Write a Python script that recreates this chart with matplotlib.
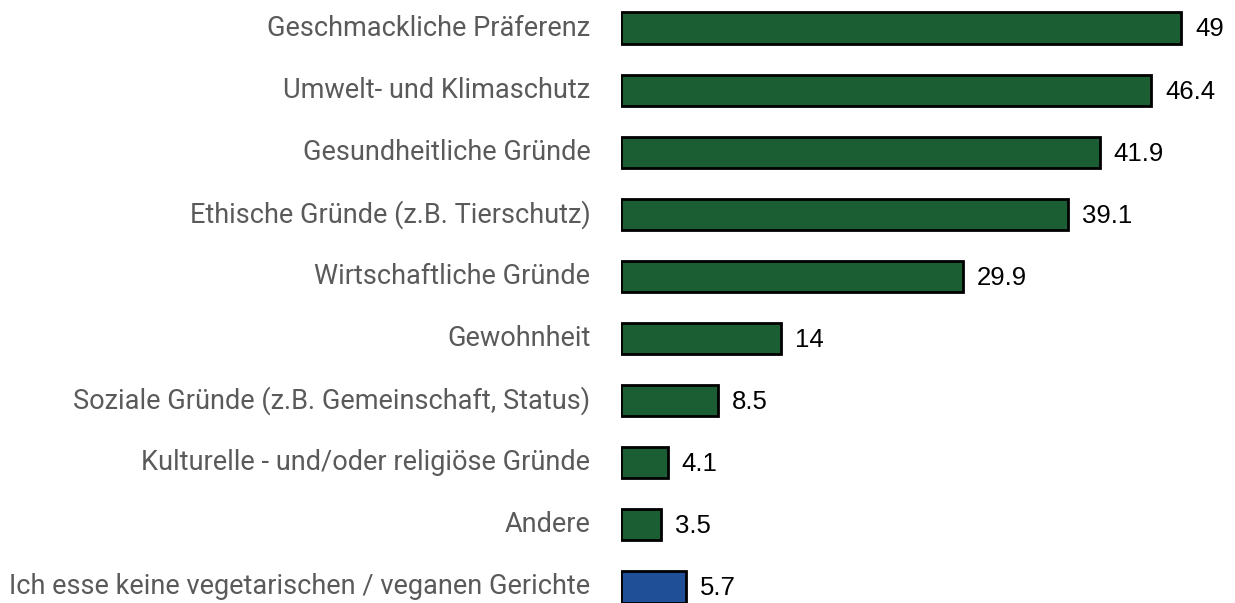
import matplotlib
matplotlib.use("Agg")
import matplotlib.pyplot as plt
from matplotlib import font_manager

categories = [
    "Geschmackliche Präferenz",
    "Umwelt- und Klimaschutz",
    "Gesundheitliche Gründe",
    "Ethische Gründe (z.B. Tierschutz)",
    "Wirtschaftliche Gründe",
    "Gewohnheit",
    "Soziale Gründe (z.B. Gemeinschaft, Status)",
    "Kulturelle - und/oder religiöse Gründe",
    "Andere",
    "Ich esse keine vegetarischen / veganen Gerichte",
]
values = [49, 46.4, 41.9, 39.1, 29.9, 14, 8.5, 4.1, 3.5, 5.7]
value_labels = ["49", "46.4", "41.9", "39.1", "29.9", "14", "8.5", "4.1", "3.5", "5.7"]
colors = ["#1b5e34"] * 9 + ["#1f4f96"]

available = {f.name for f in font_manager.fontManager.ttflist}
label_fams = [f for f in ["Roboto", "DejaVu Sans"] if f in available]
value_fams = [f for f in ["Liberation Sans", "DejaVu Sans"] if f in available]

fig = plt.figure(figsize=(12.35, 6.03), dpi=100)
ax = fig.add_axes([621 / 1235, 0, 1 - 621 / 1235, 1])

y = list(range(len(categories)))
ax.barh(y, values, height=0.5, color=colors, edgecolor="black", linewidth=2.0)

ax.set_xlim(0, 614 / 11.43)
ax.set_ylim(9 + 16 / 62.1, -28 / 62.1)
ax.axis("off")

for yi, v, lab in zip(y, values, value_labels):
    ax.annotate(lab, xy=(v, yi), xytext=(10, -1), textcoords="offset points",
                ha="left", va="center", fontsize=18.5, color="black", family=value_fams)

for yi, cat in zip(y, categories):
    ax.annotate(cat, xy=(0, yi), xytext=(-22, 0), textcoords="offset points",
                ha="right", va="center", fontsize=19.5, color="#5a5a5a", family=label_fams)

fig.savefig("out.png", dpi=100)
